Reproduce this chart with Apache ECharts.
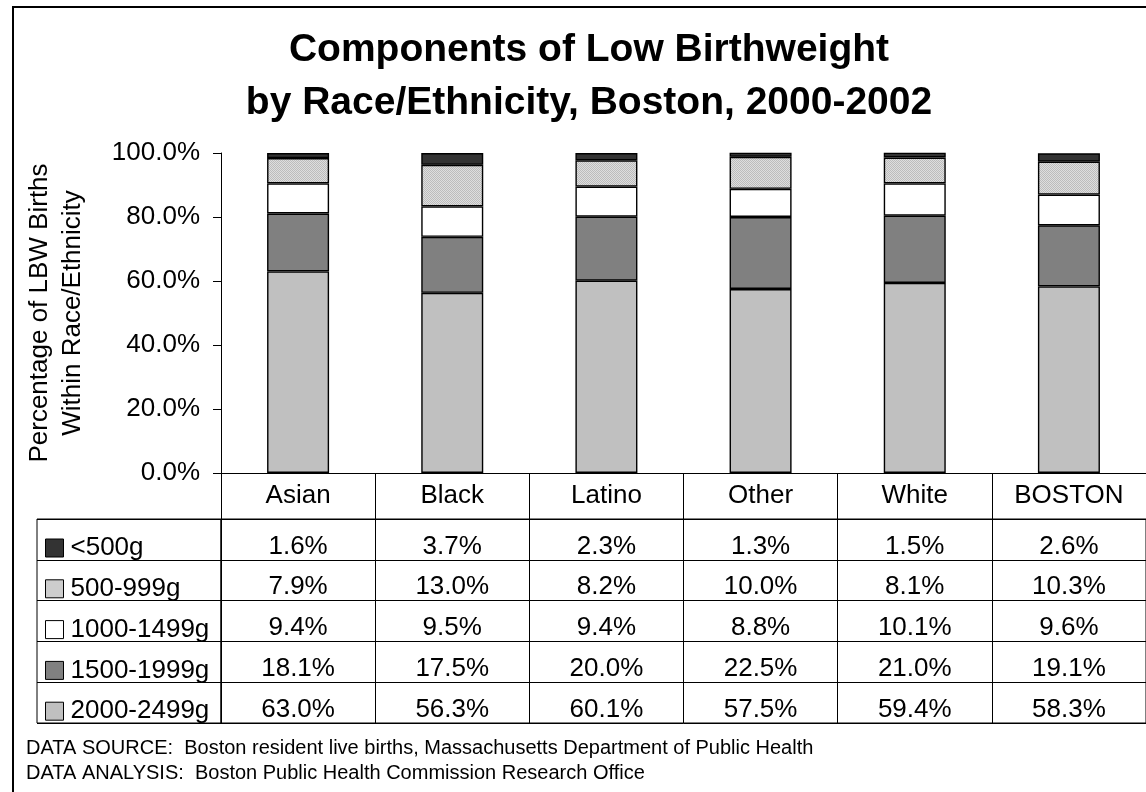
<!DOCTYPE html>
<html>
<head>
<meta charset="utf-8">
<script src="https://cdn.jsdelivr.net/npm/echarts@6/dist/echarts.min.js"></script>
<style>
html,body{margin:0;padding:0;background:#fff;}
#chart{width:1146px;height:792px;}
</style>
</head>
<body>
<div id="chart"></div>
<script>
const categories = ['Asian', 'Black', 'Latino', 'Other', 'White', 'BOSTON'];
const seriesNames = ['<500g', '500-999g', '1000-1499g', '1500-1999g', '2000-2499g'];
const lt500 = [1.6, 3.7, 2.3, 1.3, 1.5, 2.6];
const g500to999 = [7.9, 13.0, 8.2, 10.0, 8.1, 10.3];
const g1000to1499 = [9.4, 9.5, 9.4, 8.8, 10.1, 9.6];
const g1500to1999 = [18.1, 17.5, 20.0, 22.5, 21.0, 19.1];
const g2000to2499 = [63.0, 56.3, 60.1, 57.5, 59.4, 58.3];
const yTickValues = [0, 20, 40, 60, 80, 100];
const titleLines = ['Components of Low Birthweight', 'by Race/Ethnicity, Boston, 2000-2002'];
const yAxisTitle = 'Percentage of LBW Births\nWithin Race/Ethnicity';
const footerLines = [
  'DATA SOURCE:  Boston resident live births, Massachusetts Department of Public Health',
  'DATA ANALYSIS:  Boston Public Health Commission Research Office'
];

const FONT = "'Liberation Sans', Arial, sans-serif";

// dotted pattern fill for the 500-999g segment
function makePattern() {
  const c = document.createElement('canvas');
  c.width = 2; c.height = 2;
  const ctx = c.getContext('2d');
  ctx.fillStyle = '#dedede'; ctx.fillRect(0, 0, 2, 2);
  ctx.fillStyle = '#bcbcbc'; ctx.fillRect(0, 0, 1, 1); ctx.fillRect(1, 1, 1, 1);
  return { image: c, repeat: 'repeat' };
}
const pattern = makePattern();

const rowValues = [lt500, g500to999, g1000to1499, g1500to1999, g2000to2499];
const fills = ['#333333', pattern, '#ffffff', '#808080', '#c0c0c0'];

const chart = echarts.init(document.getElementById('chart'), null, { renderer: 'canvas' });

// bar series: stack from bottom (2000-2499g) to top (<500g)
const barSeries = [];
for (let i = seriesNames.length - 1; i >= 0; i--) {
  barSeries.push({
    name: seriesNames[i],
    type: 'bar',
    stack: 'total',
    xAxisIndex: 0,
    yAxisIndex: 0,
    barWidth: 62,
    data: rowValues[i],
    itemStyle: { color: fills[i], borderColor: '#000', borderWidth: 1.4 },
    emphasis: { disabled: true }
  });
}

// table cells
const cellData = [];
const cellTexts = [];
rowValues.forEach((arr, r) => {
  arr.forEach((v, c) => {
    cellData.push([c, r]);
    cellTexts.push(v.toFixed(1) + '%');
  });
});

const option = {
  backgroundColor: '#ffffff',
  animation: false,
  legend: {
    data: seriesNames,
    orient: 'vertical',
    left: 45,
    top: 535,
    padding: 0,
    itemWidth: 18,
    itemHeight: 18,
    itemGap: 14.8,
    icon: 'rect',
    selectedMode: false,
    itemStyle: { borderColor: '#000', borderWidth: 1 },
    textStyle: { fontFamily: FONT, fontSize: 26, lineHeight: 26, color: '#000', padding: [0, 0, 0, 2] }
  },
  grid: [
    { left: 221, top: 153, width: 927, height: 320, containLabel: false },
    { left: 221, top: 519, width: 927, height: 204, show: true, borderColor: '#000', borderWidth: 1 },
    { left: 37, top: 519, width: 184, height: 204, show: true, borderColor: '#000', borderWidth: 1 }
  ],
  xAxis: [
    {
      type: 'category', gridIndex: 0, data: categories,
      axisLine: { show: true, lineStyle: { color: '#000', width: 1 } },
      axisTick: { show: true, length: 46, interval: 0, lineStyle: { color: '#000', width: 1 } },
      axisLabel: { interval: 0, margin: 10, fontFamily: FONT, fontSize: 26, lineHeight: 26, color: '#000' },
      splitLine: { show: false }
    },
    {
      type: 'category', gridIndex: 1, data: categories,
      axisLine: { show: false }, axisTick: { show: false }, axisLabel: { show: false },
      splitLine: { show: true, interval: 0, lineStyle: { color: '#000', width: 1 } }
    },
    {
      type: 'value', gridIndex: 2, min: 0, max: 1, show: false
    }
  ],
  yAxis: [
    {
      type: 'value', gridIndex: 0, min: 0, max: 100, interval: 20,
      name: yAxisTitle, nameLocation: 'middle', nameRotate: 90, nameGap: 132,
      nameTextStyle: { fontFamily: FONT, fontSize: 26, lineHeight: 33, color: '#000' },
      axisLine: { show: true, lineStyle: { color: '#000', width: 1 } },
      axisTick: { show: true, length: 8, lineStyle: { color: '#000', width: 1 } },
      axisLabel: {
        margin: 21, fontFamily: FONT, fontSize: 26, color: '#000',
        formatter: v => (yTickValues.indexOf(v) >= 0 ? v.toFixed(1) + '%' : '')
      },
      splitLine: { show: false }
    },
    {
      type: 'category', gridIndex: 1, data: seriesNames, inverse: true,
      axisLine: { show: false }, axisTick: { show: false }, axisLabel: { show: false },
      splitLine: { show: true, interval: 0, lineStyle: { color: '#000', width: 1 } }
    },
    {
      type: 'category', gridIndex: 2, data: seriesNames, inverse: true,
      axisLine: { show: false }, axisTick: { show: false }, axisLabel: { show: false },
      splitLine: { show: true, interval: 0, lineStyle: { color: '#000', width: 1 } }
    }
  ],
  series: barSeries.concat([
    {
      type: 'custom',
      name: 'cells',
      xAxisIndex: 1,
      yAxisIndex: 1,
      silent: true,
      data: cellData,
      renderItem: function (params, api) {
        const p = api.coord([api.value(0), api.value(1)]);
        return {
          type: 'text',
          x: p[0], y: p[1] + 7,
          style: {
            text: cellTexts[params.dataIndex],
            textAlign: 'center', textVerticalAlign: 'middle',
            font: '26px ' + FONT, fill: '#000'
          }
        };
      }
    }
  ]),
  graphic: [
    { type: 'polyline', shape: { points: [[13, 792], [13, 7], [1146, 7]] }, style: { stroke: '#000', lineWidth: 2, fill: null }, silent: true },
    { type: 'text', x: 589, y: 50, style: { text: titleLines[0], textAlign: 'center', textVerticalAlign: 'middle', font: 'bold 39px ' + FONT, fill: '#000' } },
    { type: 'text', x: 589, y: 103, style: { text: titleLines[1], textAlign: 'center', textVerticalAlign: 'middle', font: 'bold 39px ' + FONT, fill: '#000' } },
    { type: 'text', x: 26, y: 748, style: { text: footerLines[0], textAlign: 'left', textVerticalAlign: 'middle', font: '20px ' + FONT, fill: '#000' } },
    { type: 'text', x: 26, y: 773, style: { text: footerLines[1], textAlign: 'left', textVerticalAlign: 'middle', font: '20px ' + FONT, fill: '#000' } }
  ]
};

chart.setOption(option);
</script>
</body>
</html>
